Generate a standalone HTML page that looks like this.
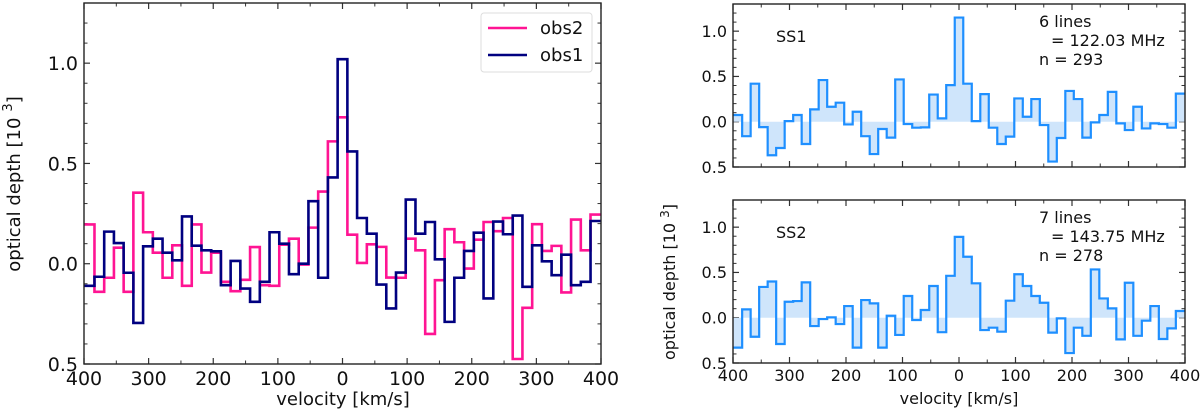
<!DOCTYPE html>
<html><head><meta charset="utf-8"><style>
html,body{margin:0;padding:0;background:#fff}
svg{display:block;font-family:"DejaVu Sans","Liberation Sans",sans-serif}
</style></head><body>
<svg id="fig" width="1200" height="414" viewBox="0 0 1200 414" xmlns="http://www.w3.org/2000/svg"></svg>
<script>
const velocities=[-391.3,-376.3,-361.2,-346.2,-331.1,-316.1,-301.0,-286.0,-270.9,-255.9,-240.8,-225.8,-210.7,-195.7,-180.6,-165.6,-150.5,-135.5,-120.4,-105.4,-90.3,-75.3,-60.2,-45.2,-30.1,-15.1,0,15.1,30.1,45.2,60.2,75.3,90.3,105.4,120.4,135.5,150.5,165.6,180.6,195.7,210.7,225.8,240.8,255.9,270.9,286.0,301.0,316.1,331.1,346.2,361.2,376.3,391.3];
const binWidth=15.05;
const obs2=[0.196,-0.14,-0.07,0.08,-0.14,0.354,0.157,0.055,-0.07,0.092,-0.11,0.196,-0.044,0.055,-0.09,-0.137,-0.08,0.083,-0.107,-0.11,0.095,0.125,-0.004,0.18,0.36,0.61,0.73,0.145,0.004,0.097,0.084,-0.069,-0.07,0.125,0.067,-0.35,-0.082,0.172,0.107,-0.024,0.12,0.208,0.162,0.228,-0.475,-0.22,0.197,0.064,0.089,-0.143,0.22,0.067,0.245];
const obs1=[-0.11,-0.065,0.16,0.103,-0.045,-0.295,0.087,0.125,0.055,0.017,0.236,0.09,0.067,0.062,-0.107,0.014,-0.124,-0.19,-0.09,0.157,0.1,-0.052,0.0,0.312,-0.07,0.43,1.02,0.56,0.228,0.15,-0.104,-0.223,-0.044,0.32,0.15,0.208,0.022,-0.29,-0.07,0.064,0.155,-0.173,0.21,0.147,0.24,-0.115,0.092,0.012,-0.057,0.045,-0.107,-0.09,0.213];
const ss1=[0.074,-0.16,0.42,-0.06,-0.37,-0.29,0.007,0.074,-0.246,0.136,0.46,0.165,0.21,-0.03,0.11,-0.16,-0.357,-0.08,-0.176,0.467,-0.026,-0.066,-0.062,0.3,0.037,0.404,1.15,0.42,0.007,0.305,-0.066,-0.246,-0.165,0.257,0.055,0.25,-0.037,-0.44,-0.18,0.34,0.25,-0.176,-0.007,0.074,0.33,-0.018,-0.092,0.165,-0.074,-0.018,-0.026,-0.066,0.31];
const ss2=[-0.33,0.092,-0.21,0.34,0.40,-0.29,0.176,0.184,0.39,-0.092,-0.015,0.004,-0.07,0.129,-0.33,0.195,0.158,-0.33,0.022,-0.19,0.24,-0.026,0.085,0.35,-0.16,0.463,0.893,0.673,0.38,-0.136,-0.11,-0.154,0.188,0.48,0.35,0.24,0.165,-0.165,-0.007,-0.39,-0.11,-0.2,0.533,0.213,0.103,-0.239,0.386,-0.2,-0.033,0.129,-0.235,-0.118,0.074];
const xTickValues=[-400,-300,-200,-100,0,100,200,300,400];
const xTickLabels=["400","300","200","100","0","100","200","300","400"];
const yTickValues=[-0.5,0,0.5,1.0];
const yTickLabels=["0.5","0.0","0.5","1.0"];

const NS="http://www.w3.org/2000/svg";
const svg=document.getElementById('fig');
function mk(tag,attrs,parent){const e=document.createElementNS(NS,tag);for(const k in attrs)e.setAttribute(k,attrs[k]);(parent||svg).appendChild(e);return e;}

function makePanel(name,x0,x1,yt,yb,fs,showXLabels){
  const g=mk('g',{});
  
  
  const sx=v=>x0+(v+400)/800*(x1-x0);
  const sy=v=>yb-(v+0.5)/1.8*(yb-yt);
  for(let v=-350;v<400;v+=100){
    const x=sx(v);
    mk('line',{x1:x,x2:x,y1:yb,y2:yb-3.5,stroke:'#333','stroke-width':1},g);
    mk('line',{x1:x,x2:x,y1:yt,y2:yt+3.5,stroke:'#333','stroke-width':1},g);
  }
  for(let i=-5;i<=13;i++){
    if(i%5===0)continue;
    const y=sy(i/10);
    mk('line',{x1:x0,x2:x0+3.5,y1:y,y2:y,stroke:'#333','stroke-width':1},g);
    mk('line',{x1:x1,x2:x1-3.5,y1:y,y2:y,stroke:'#333','stroke-width':1},g);
  }
  xTickValues.forEach((v,i)=>{
    const x=sx(v);
    const t1=mk('line',{x1:x,x2:x,y1:yb,y2:yb-6,stroke:'#333','stroke-width':1.2},g);
    
    
    mk('line',{x1:x,x2:x,y1:yt,y2:yt+6,stroke:'#333','stroke-width':1.2},g);
    if(showXLabels){
      const t=mk('text',{x:x,y:yb+fs+2,'text-anchor':'middle','font-size':fs,fill:'#111'},g);
      
      
      t.textContent=xTickLabels[i];
    }
  });
  yTickValues.forEach((v,i)=>{
    const y=sy(v);
    mk('line',{x1:x0,x2:x0+6,y1:y,y2:y,stroke:'#333','stroke-width':1.2},g);
    mk('line',{x1:x1,x2:x1-6,y1:y,y2:y,stroke:'#333','stroke-width':1.2},g);
    const t=mk('text',{x:x0-6,y:y+fs*0.36,'text-anchor':'end','font-size':fs,fill:'#111'},g);
    
    
    t.textContent=yTickLabels[i];
  });
  return {g,sx,sy,x0,x1,yt,yb};
}

function stepPoints(p,vals){
  const pts=[];
  vals.forEach((v,i)=>{
    let a=Math.max(-400,velocities[i]-binWidth/2), b=Math.min(400,velocities[i]+binWidth/2);
    if(i===vals.length-1)b=400;
    if(i===0)a=-400;
    pts.push([p.sx(a),p.sy(v)],[p.sx(b),p.sy(v)]);
  });
  return pts;
}
function drawStep(p,vals,color,w,name,fill){
  const pts=stepPoints(p,vals);
  const d='M'+pts.map(q=>q[0].toFixed(2)+','+q[1].toFixed(2)).join('L');
  if(fill){
    const z=p.sy(0);
    const f=mk('path',{d:d+'L'+pts[pts.length-1][0].toFixed(2)+','+z+'L'+pts[0][0].toFixed(2)+','+z+'Z',fill:fill,stroke:'none'},p.g);
    
    
  }
  const l=mk('path',{d:d,fill:'none',stroke:color,'stroke-width':w,'stroke-linejoin':'miter'},p.g);
  
  
}
function frame(p){
  const r=mk('rect',{x:p.x0,y:p.yt,width:p.x1-p.x0,height:p.yb-p.yt,fill:'none',stroke:'#222','stroke-width':1.4},p.g);
  
  
}

const L=makePanel('combined-panel',84,601,3,364,19,true);
drawStep(L,obs2,'#ff1493',2.6,'obs2-series',null);
drawStep(L,obs1,'#000080',2.6,'obs1-series',null);
frame(L);

const R1=makePanel('ss1-panel',733,1185,4,167,16,false);
drawStep(R1,ss1,'#1e8fff',2.2,'ss1-series','#cfe5fb');
frame(R1);
const R2=makePanel('ss2-panel',733,1185,200,363,16,true);
drawStep(R2,ss2,'#1e8fff',2.2,'ss2-series','#cfe5fb');
frame(R2);
</script>
<script>
(function(){
const NS="http://www.w3.org/2000/svg";
const svg=document.getElementById('fig');
function txt(x,y,s,size,name,anchor,rot){
  const t=document.createElementNS(NS,'text');
  t.setAttribute('x',x);t.setAttribute('y',y);t.setAttribute('font-size',size);
  t.setAttribute('fill','#111');t.setAttribute('text-anchor',anchor||'start');
  if(rot)t.setAttribute('transform','rotate(-90 '+x+' '+y+')');
  
  
  t.innerHTML=s;svg.appendChild(t);return t;
}
txt(343,405,'velocity [km/s]',18,'x-axis-title','middle');
txt(959,404,'velocity [km/s]',16,'x-axis-title-right','middle');
txt(20,184,'optical depth [10<tspan dx="6" dy="-8" font-size="13">3</tspan><tspan dy="8">]</tspan>',18,'y-axis-title','middle',true);
txt(675,282,'optical depth [10<tspan dx="5" dy="-6" font-size="12">3</tspan><tspan dy="6">]</tspan>',16,'y-axis-title-right','middle',true);
txt(776,42,'SS1',16,'ss1-label');
txt(1039,27,'6 lines',16,'ss1-lines');
txt(1051,46,'= 122.03 MHz',16,'ss1-freq');
txt(1039,65,'n = 293',16,'ss1-n');
txt(776,238,'SS2',16,'ss2-label');
txt(1039,223,'7 lines',16,'ss2-lines');
txt(1051,242,'= 143.75 MHz',16,'ss2-freq');
txt(1039,261,'n = 278',16,'ss2-n');
const g=document.createElementNS(NS,'g');


svg.appendChild(g);
const r=document.createElementNS(NS,'rect');
r.setAttribute('x',481);r.setAttribute('y',13);r.setAttribute('width',111);r.setAttribute('height',59);r.setAttribute('rx',3);
r.setAttribute('fill','#fff');r.setAttribute('stroke','#ddd');


g.appendChild(r);
[['obs2','#ff1493',28],['obs1','#000080',55]].forEach(e=>{
  const l=document.createElementNS(NS,'line');
  l.setAttribute('x1',488);l.setAttribute('x2',527);l.setAttribute('y1',e[2]);l.setAttribute('y2',e[2]);
  l.setAttribute('stroke',e[1]);l.setAttribute('stroke-width',2.6);
  
  
  g.appendChild(l);
  const t=txt(540,e[2]+6,e[0],18,'legend-entry-'+e[0]);
  g.appendChild(t);
});
})();
</script>
</body></html>
